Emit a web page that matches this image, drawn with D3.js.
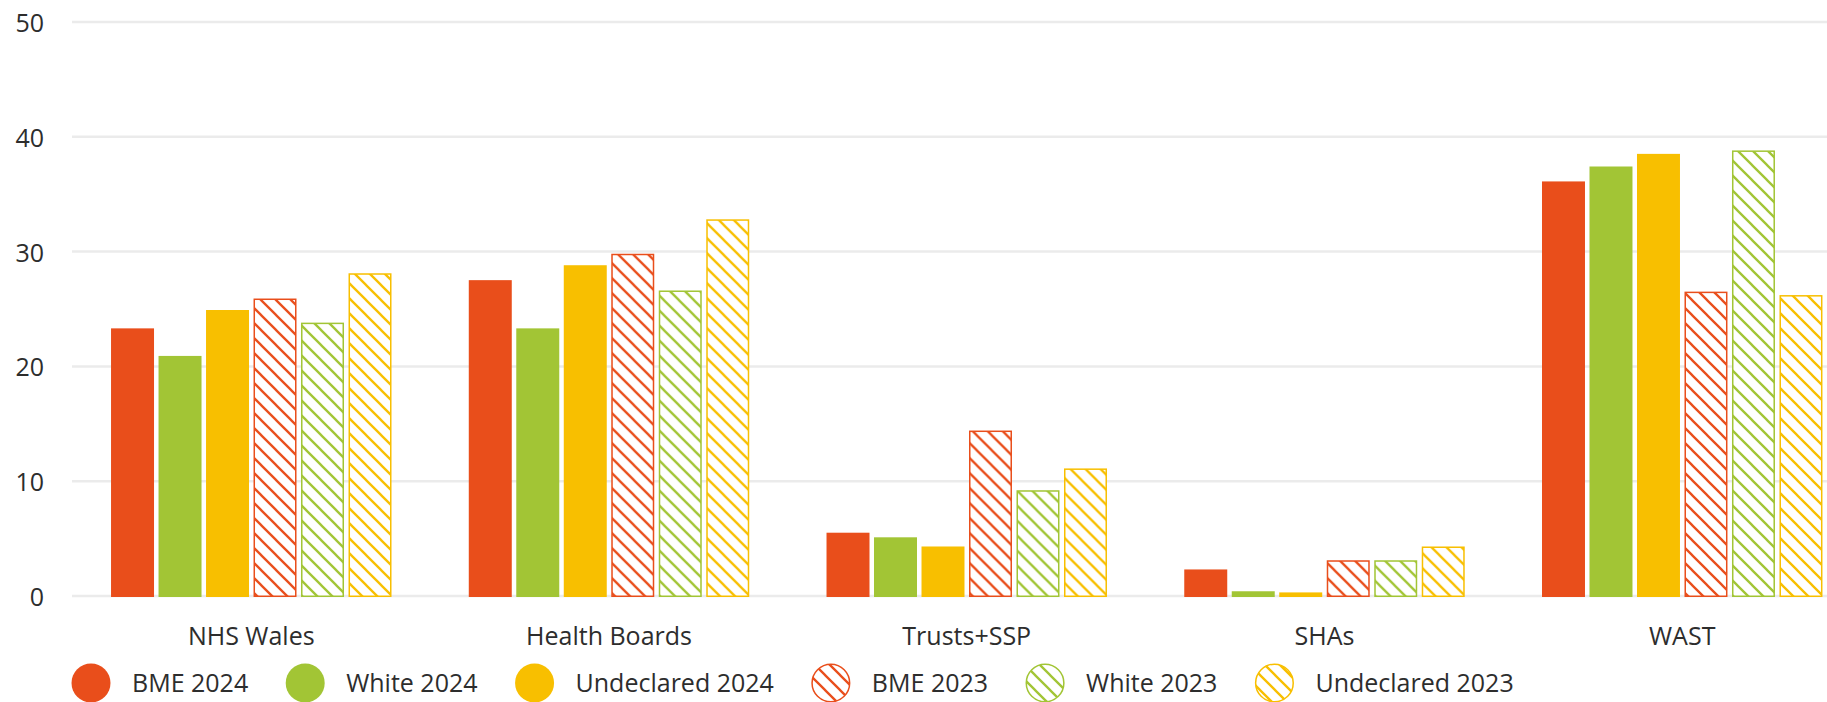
<!DOCTYPE html>
<html>
<head>
<meta charset="utf-8">
<script src="https://cdn.jsdelivr.net/npm/d3@7"></script>
<style>
  html, body { margin: 0; padding: 0; background: #fff; }
  svg { display: block; }
  text { font-family: "Open Sans", "Lato", sans-serif; font-weight: 400; fill: #2d2d2d; }
</style>
</head>
<body>
<svg id="chart" width="1827" height="702"></svg>
<script>
// Organisations along the x axis
const categories = ["NHS Wales", "Health Boards", "Trusts+SSP", "SHAs", "WAST"];

// Series, one value per organisation
const bme2024        = [23.4, 27.6, 5.6, 2.4, 36.2];
const white2024      = [21.0, 23.4, 5.2, 0.5, 37.5];
const undeclared2024 = [25.0, 28.9, 4.4, 0.4, 38.6];
const bme2023        = [26.0, 29.9, 14.5, 3.2, 26.6];
const white2023      = [23.9, 26.7, 9.3, 3.2, 38.9];
const undeclared2023 = [28.2, 32.9, 11.2, 4.4, 26.3];

const seriesNames = ["BME 2024", "White 2024", "Undeclared 2024", "BME 2023", "White 2023", "Undeclared 2023"];
const yTicks = [0, 10, 20, 30, 40, 50];

const series = [
  { name: seriesNames[0], values: bme2024,        color: "#e94e1b", hatched: false },
  { name: seriesNames[1], values: white2024,      color: "#a2c535", hatched: false },
  { name: seriesNames[2], values: undeclared2024, color: "#f8bf00", hatched: false },
  { name: seriesNames[3], values: bme2023,        color: "#e94e1b", hatched: true },
  { name: seriesNames[4], values: white2023,      color: "#a2c535", hatched: true },
  { name: seriesNames[5], values: undeclared2023, color: "#f8bf00", hatched: true }
];

const W = 1827, H = 702;
const svg = d3.select("#chart");

// Diagonal hatch patterns for the 2023 series
const defs = svg.append("defs");
series.filter(s => s.hatched).forEach((s, i) => {
  const p = defs.append("pattern")
    .attr("id", "hatch-" + i)
    .attr("patternUnits", "userSpaceOnUse")
    .attr("width", 15).attr("height", 15);
  p.append("rect").attr("width", 15).attr("height", 15).attr("fill", "#fff");
  p.append("path")
    .attr("d", "M0,0 L15,15 M13.5,-1.5 L16.5,1.5 M-1.5,13.5 L1.5,16.5")
    .attr("stroke", s.color).attr("stroke-width", 2.3).attr("fill", "none");
  s.patternId = "hatch-" + i;
});

// Scales
const y = d3.scaleLinear().domain([0, 50]).range([597, 23]);
const x0 = d3.scaleBand()
  .domain(categories)
  .range([72.4, 1861.1])
  .paddingInner(0.216)
  .paddingOuter(0.108);
const x1 = d3.scaleBand()
  .domain(seriesNames)
  .range([0, x0.bandwidth()])
  .paddingInner(0.095)
  .paddingOuter(0);

// Gridlines
svg.append("g").selectAll("line")
  .data(yTicks)
  .join("line")
  .attr("x1", 72).attr("x2", W)
  .attr("y1", d => y(d) - 1).attr("y2", d => y(d) - 1)
  .attr("stroke", "#ebebeb").attr("stroke-width", 2.5);

// Y axis labels
svg.append("g").selectAll("text")
  .data(yTicks)
  .join("text")
  .attr("x", 44)
  .attr("y", d => y(d) + 9)
  .attr("text-anchor", "end")
  .attr("font-size", 25)
  .text(d => d);

// Bars
const groups = svg.append("g").selectAll("g")
  .data(categories)
  .join("g")
  .attr("transform", d => `translate(${x0(d)},0)`);

groups.each(function(cat, ci) {
  const g = d3.select(this);
  series.forEach(s => {
    const v = s.values[ci];
    const bx = x1(s.name), bw = x1.bandwidth();
    const top = y(v), h = y(0) - y(v);
    if (!s.hatched) {
      g.append("rect")
        .attr("x", bx).attr("y", top)
        .attr("width", bw).attr("height", h)
        .attr("fill", s.color);
    } else {
      g.append("rect")
        .attr("x", bx + 0.75).attr("y", top + 0.75)
        .attr("width", bw - 1.5).attr("height", Math.max(0, h - 1.5))
        .attr("fill", `url(#${s.patternId})`)
        .attr("stroke", s.color).attr("stroke-width", 1.5);
    }
  });
});

// Category labels
svg.append("g").selectAll("text")
  .data(categories)
  .join("text")
  .attr("x", d => x0(d) + x0.bandwidth() / 2)
  .attr("y", 645)
  .attr("text-anchor", "middle")
  .attr("font-size", 25)
  .text(d => d);

// Legend
const legend = svg.append("g");
let cx = 91;
series.forEach(s => {
  const item = legend.append("g");
  item.append("circle")
    .attr("cx", cx).attr("cy", 683).attr("r", s.hatched ? 18.8 : 19.5)
    .attr("fill", s.hatched ? `url(#${s.patternId})` : s.color)
    .attr("stroke", s.hatched ? s.color : "none")
    .attr("stroke-width", 1.5);
  const t = item.append("text")
    .attr("x", cx + 41).attr("y", 692)
    .attr("font-size", 25)
    .text(s.name);
  const w = t.node().getComputedTextLength();
  cx = cx + 41 + w + 57;
});
</script>
</body>
</html>
